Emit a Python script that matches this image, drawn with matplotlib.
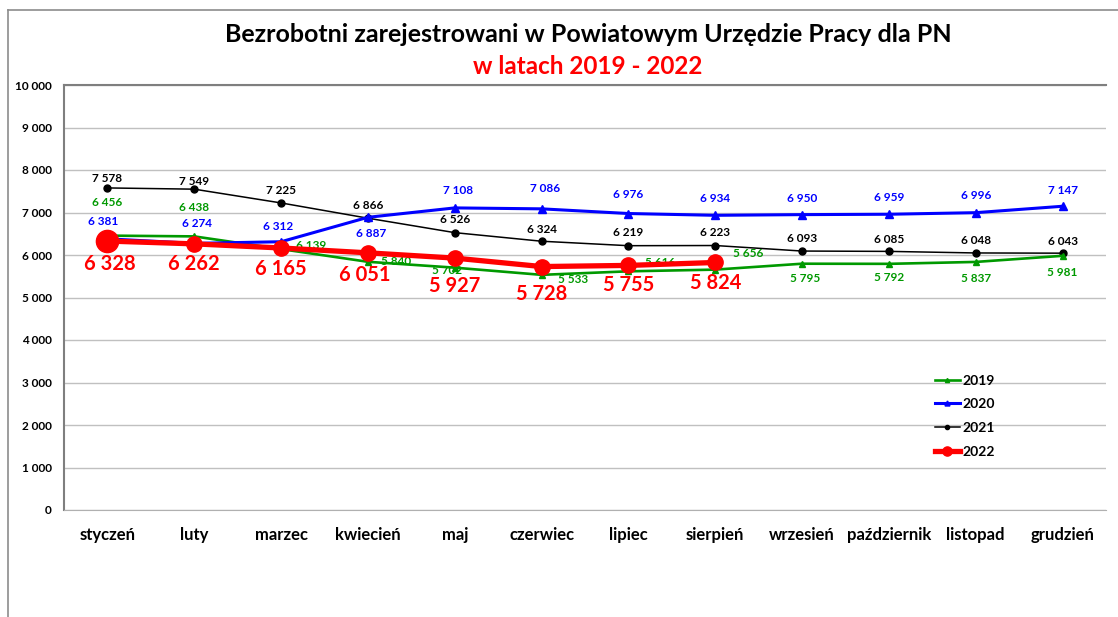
import numpy as np
import matplotlib
matplotlib.use("Agg")
import matplotlib.pyplot as plt
from matplotlib.lines import Line2D

plt.rcParams['font.family'] = ['Lato', 'DejaVu Sans']
plt.rcParams['font.weight'] = 'bold'

# dane
miesiace = ["styczeń", "luty", "marzec", "kwiecień", "maj", "czerwiec",
            "lipiec", "sierpień", "wrzesień", "październik", "listopad", "grudzień"]
r2019 = [6456, 6438, 6139, 5840, 5702, 5533, 5616, 5656, 5795, 5792, 5837, 5981]
r2020 = [6381, 6274, 6312, 6887, 7108, 7086, 6976, 6934, 6950, 6959, 6996, 7147]
r2021 = [7578, 7549, 7225, 6866, 6526, 6324, 6219, 6223, 6093, 6085, 6048, 6043]
r2022 = [6328, 6262, 6165, 6051, 5927, 5728, 5755, 5824]
y_ticks = list(range(0, 10001, 1000))

# przesuniecia etykiet (piksele)
off2019 = [(0, 33), (0, 29), (30, 4), (28, 0), (-8, -3), (31, -5),
           (32, 9), (33, 16), (3, -15), (0, -14), (0, -17), (0, -17)]
off2020 = [(-4, 17), (3, 20), (-3, 15), (3, -16), (3, 17), (3, 20),
           (0, 19), (0, 17), (0, 16), (0, 17), (0, 17), (0, 16)]
off2021 = [(0, 9), (0, 8), (0, 12), (0, 13), (0, 13), (0, 12),
           (0, 13), (0, 13), (0, 13), (0, 12), (0, 12), (0, 12)]
off2022 = [(2, -23), (0, -20), (0, -21), (-3, -22), (0, -28), (0, -27), (0, -20), (0, -21)]

GREEN = "#009900"
BLUE = "#0000FF"
RED = "#FF0000"

W, H = 1118, 617
fig = plt.figure(figsize=(W / 100, H / 100), dpi=100)
fig.patch.set_facecolor("white")

# ramka wykresu
fig.add_artist(Line2D([8 / W, 1], [1 - 10 / H, 1 - 10 / H], color="#8c8c8c", lw=1.2))
fig.add_artist(Line2D([8 / W, 8 / W], [0, 1 - 10 / H], color="#8c8c8c", lw=1.2))

left, right, top, bottom = 64, 1106, 85, 510
ax = fig.add_axes([left / W, 1 - bottom / H, (right - left) / W, (bottom - top) / H])

x = np.arange(len(miesiace))
x22 = np.arange(len(r2022))

ax.plot(x, r2021, color="black", lw=1.1, marker="o", ms=5, zorder=3, label="2021")
ax.plot(x, r2019, color=GREEN, lw=1.9, marker="^", ms=5, zorder=4, label="2019")
ax.plot(x, r2020, color=BLUE, lw=2.2, marker="^", ms=6, zorder=5, label="2020")
ax.plot(x22, r2022, color=RED, lw=3.8, marker="o", ms=11, zorder=7, label="2022")
ax.plot(x22[:1], r2022[:1], color=RED, marker="o", ms=16, lw=0, zorder=7)

def fmt(v):
    return f"{v:,}".replace(",", " ")

def etykiety(vals, offs, color, size, z):
    for i, (v, o) in enumerate(zip(vals, offs)):
        ax.annotate(fmt(v), (i, v), xytext=o, textcoords="offset pixels",
                    ha="center", va="center", color=color, fontsize=size,
                    fontweight="bold", zorder=z)

etykiety(r2019, off2019, GREEN, 8.5, 6)
etykiety(r2020, off2020, BLUE, 8.5, 8)
etykiety(r2021, off2021, "black", 8.5, 8)
etykiety(r2022, off2022, RED, 14.5, 9)

ax.set_xlim(-0.5, len(miesiace) - 0.5)
ax.set_ylim(0, 10000)
ax.set_yticks(y_ticks)
ax.set_yticklabels([fmt(v) for v in y_ticks], fontsize=8.5, fontweight="bold")
ax.set_xticks(x)
ax.set_xticklabels(miesiace, fontsize=12, fontweight="bold")
ax.tick_params(axis="both", length=0)
ax.tick_params(axis="y", pad=9)
ax.tick_params(axis="x", pad=12)
ax.grid(axis="y", color="#c0c0c0", lw=1)
ax.set_axisbelow(True)
for s in ["left", "top"]:
    ax.spines[s].set_color("#7f7f7f")
    ax.spines[s].set_linewidth(1.5)
ax.spines["bottom"].set_color("#b0b0b0")
ax.spines["right"].set_visible(False)

handles, labels = ax.get_legend_handles_labels()
order = [1, 2, 0, 3]
leg = ax.legend([handles[i] for i in order], [labels[i] for i in order],
                loc="upper left", bbox_to_anchor=(858 / (right - left), (bottom - 362) / (bottom - top)),
                frameon=False, fontsize=10, handlelength=1.8, labelspacing=0.85,
                handletextpad=0.2, markerscale=0.6)
for t in leg.get_texts():
    t.set_fontweight("bold")

fig.text(588 / W, 1 - 34 / H, "Bezrobotni zarejestrowani w Powiatowym Urzędzie Pracy dla PN",
         ha="center", va="center", fontsize=18, fontweight="bold", color="black")
fig.text(588 / W, 1 - 66 / H, "w latach 2019 - 2022",
         ha="center", va="center", fontsize=17.5, fontweight="bold", color=RED)

fig.savefig("out.png", dpi=100)
